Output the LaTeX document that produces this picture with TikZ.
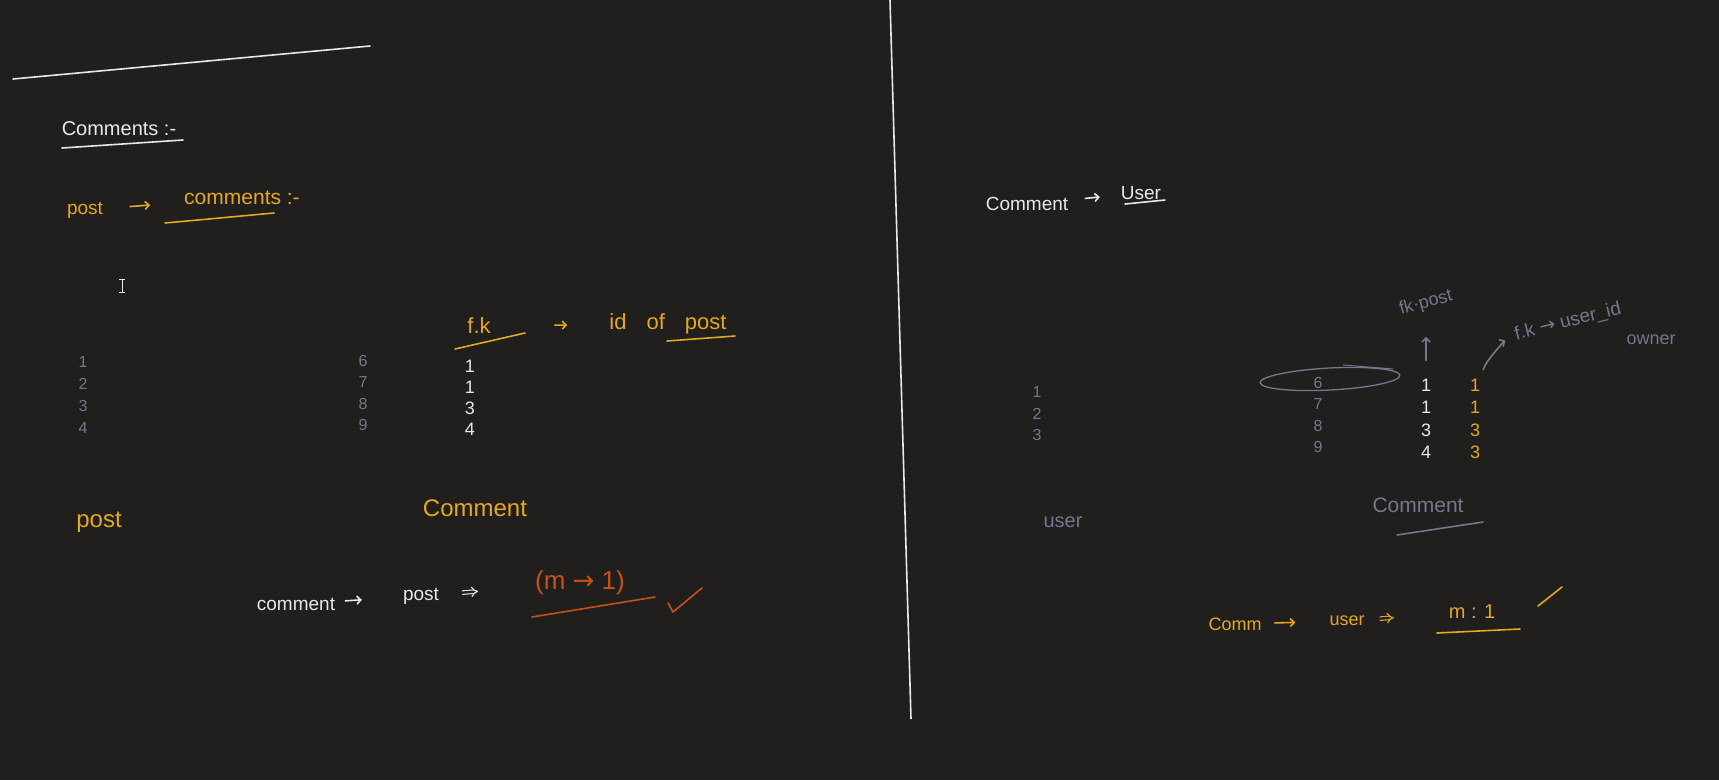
\documentclass[tikz,border=0pt]{standalone}
\usepackage{fontspec}
\setmainfont{Liberation Sans}
\newfontfamily\arrowfont{DejaVu Sans}
\usepackage{xcolor}
\usepackage{tikz}
\usetikzlibrary{arrows.meta, positioning, calc}
\definecolor{BoardBg}{RGB}{32, 31, 30}
\definecolor{InkWhite}{RGB}{232, 232, 232}
\definecolor{InkYellow}{RGB}{228, 168, 32}
\definecolor{InkOrange}{RGB}{200, 80, 20}
\definecolor{InkGray}{RGB}{122, 116, 140}
\tikzset{
  ink/.style={inner sep=1pt, text=#1},
  ink/.default=InkWhite,
  sz/.style={font=\fontsize{#1}{#1}\selectfont},
  penline/.style={draw=#1, line width=1.6pt, line cap=round, line join=round},
  harrow/.style={penline=#1, -{Straight Barb[length=4pt, width=8pt]}},
  darrow/.style={draw=#1, line width=1.1pt, double=BoardBg, double distance=2.4pt, -{Implies}}
}

\begin{document}
\begin{tikzpicture}[x=1pt, y=-1pt]
    \fill[BoardBg] (0,0) rectangle (1719,780);
    \useasboundingbox (0,0) rectangle (1719,780);

    \draw[penline=InkWhite] (13,79) -- (370,46);
    \node[ink, sz=20] (title) at (119,129) {Comments :-};
    \draw[penline=InkWhite] (62,148) -- (183,140);

    \node[ink=InkYellow, sz=19] (post1) at (85,210) {post};
    \node[ink=InkYellow, sz=21] (cmts1) at (242,198) {comments :-};
    \draw[penline=InkYellow] (165,223) -- (274,213);
    \draw[harrow=InkYellow, shorten <=26pt, shorten >=33pt] (post1) -- (cmts1);

    \draw[InkWhite, line width=0.9pt] (122,279) -- (122,292) (119,279) -- (125,279) (119,292) -- (125,292);

    \node[ink=InkYellow, sz=22] (fk1) at (479,326) {f.k};
    \draw[penline=InkYellow] (455,349) -- (525,333);
    \node[ink=InkYellow, sz=22] (idof) at (668,324) {id\hspace{20pt}of\hspace{20pt}post};
    \draw[penline=InkYellow] (667,341) -- (735,336);
    \draw[harrow=InkYellow, shorten <=63pt, shorten >=41pt] (fk1) -- (idof);

    \foreach \v [count=\i] in {1,2,3,4}
      \node[ink=InkGray, sz=16] (pid\i) at (83, 340+22*\i) {\v};
    \foreach \v [count=\i] in {6,7,8,9}
      \node[ink=InkGray, sz=16] (cid\i) at (363, 339+21.5*\i) {\v};
    \foreach \v [count=\i] in {1,1,3,4}
      \node[ink, sz=18] (cfk\i) at (470, 345+21*\i) {\v};

    \node[ink=InkYellow, sz=24] (post2) at (99,522) {post};
    \node[ink=InkYellow, sz=24] (cmt2) at (475,508) {Comment};

    \node[ink, sz=19] (cmt3) at (296,604) {comment};
    \node[ink, sz=19] (post3) at (421,596) {post};
    \node[ink=InkOrange, sz=26] (m1) at (580,583) {(m {\arrowfont→} 1)};
    \draw[penline=InkOrange] (532,617) -- (655,597);
    \draw[penline=InkOrange] (668,603) -- (673,612) -- (702,588);
    \draw[harrow=InkWhite, shorten <=9pt, shorten >=40pt] (cmt3) -- (post3);
    \draw[darrow=InkWhite, shorten <=22pt, shorten >=56pt] (post3) -- (m1);

    \draw[InkWhite, line width=1.6pt] (890,0) -- (911,719);

    \node[ink, sz=19] (cu) at (1027,204) {Comment};
    \node[ink, sz=19] (user1) at (1141,193) {User};
    \draw[penline=InkWhite] (1125,204) -- (1165,200);
    \draw[harrow=InkWhite, shorten <=16pt, shorten >=20pt] (cu) -- (user1);

    \foreach \v [count=\i] in {1,2,3}
      \node[ink=InkGray, sz=16] (uid\i) at (1037, 370.5+21.5*\i) {\v};
    \node[ink=InkGray, sz=20] (user2) at (1063,522) {user};

    \draw[penline=InkGray, line width=1.3pt, rotate around={3:(1330,379)}] (1330,379) ellipse [x radius=70, y radius=11];
    \draw[penline=InkGray, line width=1pt] (1343,365) -- (1393,369);
    \foreach \v [count=\i] in {6,7,8,9}
      \node[ink=InkGray, sz=16] (rcid\i) at (1318, 361+21.5*\i) {\v};
    \foreach \v [count=\i] in {1,1,3,4}
      \node[ink, sz=18] (rfk\i) at (1426, 362.5+22.5*\i) {\v};
    \foreach \v [count=\i] in {1,1,3,3}
      \node[ink=InkYellow, sz=18] (ufk\i) at (1475, 362.5+22.5*\i) {\v};

    \node[ink=InkGray, sz=18, rotate=15] (fkpost) at (1426,303) {fk·post};
    \node[ink=InkGray, sz=19, rotate=14] (fkuser) at (1568,322) {f.k {\arrowfont→} user\_id};
    \node[ink=InkGray, sz=18] (owner) at (1651,340) {owner};
    \draw[harrow=InkGray, shorten <=17pt, shorten >=24pt] (rfk1) -- (fkpost);
    \draw[harrow=InkGray, shorten <=8pt, shorten >=10pt] (ufk1.north east) .. controls +(4,-16) and +(-10,6) .. (fkuser.west);

    \node[ink=InkGray, sz=21] (cmt4) at (1418,505) {Comment};
    \draw[penline=InkGray] (1397,535) -- (1483,522);

    \node[ink=InkYellow, sz=18] (cmm) at (1235,624) {Comm};
    \node[ink=InkYellow, sz=18] (user3) at (1347,621) {user};
    \node[ink=InkYellow, sz=20] (m2) at (1472,612) {m : 1};
    \draw[penline=InkYellow] (1437,633) -- (1520,629);
    \draw[penline=InkYellow] (1538,606) -- (1562,587);
    \draw[harrow=InkYellow, shorten <=12pt, shorten >=33pt] (cmm) -- (user3);
    \draw[darrow=InkYellow, shorten <=14pt, shorten >=54pt] (user3) -- (m2);
\end{tikzpicture}
\end{document}
